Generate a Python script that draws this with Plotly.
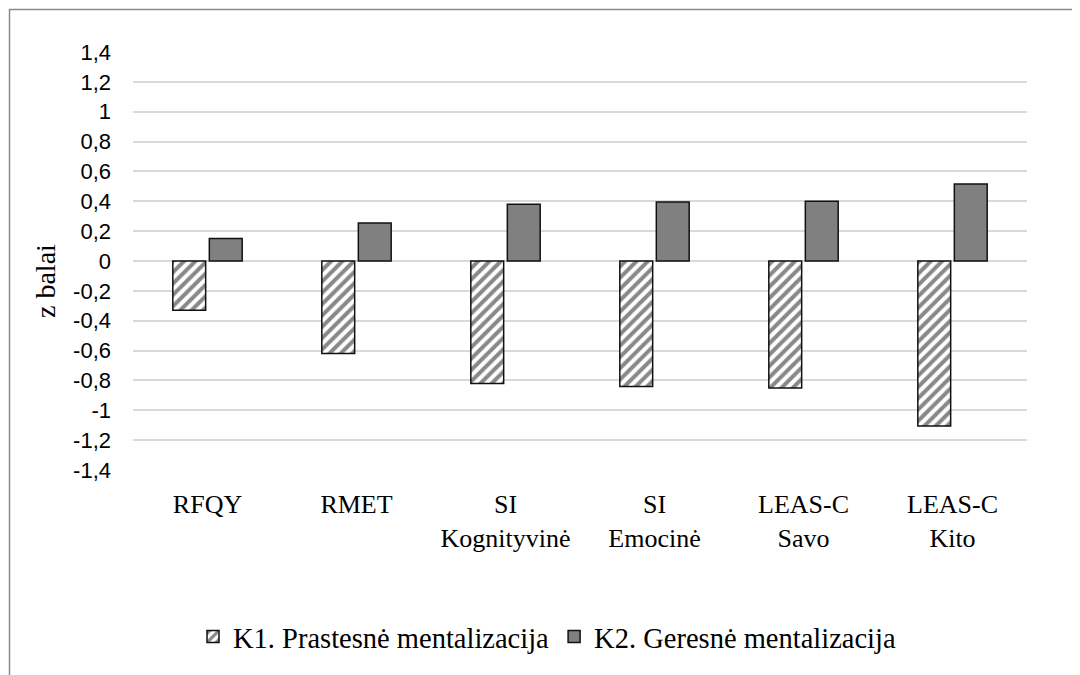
import plotly.graph_objects as go

categories = ["RFQY", "RMET", "SI<br>Kognityvinė", "SI<br>Emocinė", "LEAS-C<br>Savo", "LEAS-C<br>Kito"]
k1_values = [-0.33, -0.62, -0.82, -0.84, -0.85, -1.105]
k2_values = [0.15, 0.255, 0.38, 0.395, 0.40, 0.515]
series_names = ["K1. Prastesnė mentalizacija", "K2. Geresnė mentalizacija"]
tick_vals = [-1.4, -1.2, -1.0, -0.8, -0.6, -0.4, -0.2, 0, 0.2, 0.4, 0.6, 0.8, 1.0, 1.2, 1.4]
tick_text = ["-1,4", "-1,2", "-1", "-0,8", "-0,6", "-0,4", "-0,2", "0", "0,2", "0,4", "0,6", "0,8", "1", "1,2", "1,4"]
y_title = "z balai"

# The page body has an 8px margin, so the figure is drawn 8px in from the window edge.
W, H = 1072, 667
ML, MR, MT, MB = 125, 53, 44, 205
PW, PH = W - ML - MR, H - MT - MB

def px_to_paper_x(px):
    return (px - ML) / PW

def px_to_paper_y(py):
    return (H - MB - py) / PH

fig = go.Figure()
fig.add_trace(go.Bar(
    x=categories, y=k1_values, name=series_names[0],
    marker=dict(color="white", line=dict(color="#111111", width=1.5),
                pattern=dict(shape="/", fgcolor="#111111", size=8, solidity=0.5, fillmode="overlay")),
))
fig.add_trace(go.Bar(
    x=categories, y=k2_values, name=series_names[1],
    marker=dict(color="#808080", line=dict(color="#111111", width=1.5)),
))

fig.update_layout(
    width=W, height=H,
    margin=dict(l=ML, r=MR, t=MT, b=MB),
    paper_bgcolor="white", plot_bgcolor="white",
    barmode="group", bargap=0.51, bargroupgap=0.1,
    showlegend=True,
    legend=dict(orientation="h", x=px_to_paper_x(539), xanchor="center",
                y=px_to_paper_y(629), yanchor="middle",
                font=dict(family="Liberation Serif", size=28.5, color="#000000"),
                itemwidth=30, traceorder="normal", bgcolor="rgba(0,0,0,0)"),
    font=dict(family="Liberation Serif", color="#000000"),
    shapes=[dict(type="rect", xref="paper", yref="paper",
                 x0=px_to_paper_x(1.5), x1=px_to_paper_x(1100),
                 y0=px_to_paper_y(720), y1=px_to_paper_y(1.5),
                 line=dict(color="#8a8a8a", width=1.5), layer="below")],
    annotations=[dict(text=y_title, xref="paper", yref="paper",
                      x=px_to_paper_x(37), y=px_to_paper_y(273),
                      xanchor="center", yanchor="middle", textangle=-90, showarrow=False,
                      font=dict(family="Liberation Serif", size=28, color="#000000"))],
)
fig.update_xaxes(
    showgrid=False, showline=False, zeroline=False, ticks="",
    tickfont=dict(family="Liberation Serif", size=26, color="#000000"),
    ticklabelstandoff=16,
)
fig.update_yaxes(
    range=[-1.4, 1.4], tickvals=tick_vals, ticktext=tick_text,
    showgrid=True, gridcolor="#d9d9d9", gridwidth=1.5,
    zeroline=True, zerolinecolor="#d9d9d9", zerolinewidth=1.5,
    showline=False, ticks="",
    tickfont=dict(family="Liberation Sans", size=22, color="#000000"),
    ticklabelstandoff=21,
    automargin=False,
)
fig.write_html("out.html")
